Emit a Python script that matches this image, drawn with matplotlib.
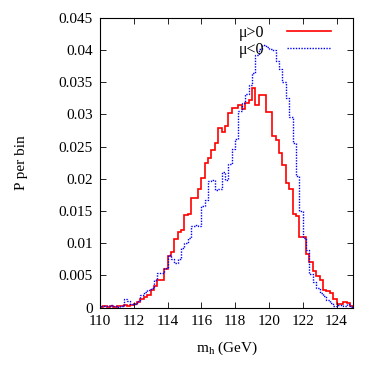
import numpy as np
import matplotlib
matplotlib.use("Agg")
import matplotlib.pyplot as plt

# m_h histogram, 0.2 GeV bins from 110 to 125 GeV
mh_range = (110, 125)

# mu > 0
p_mu_pos = [0.0001, 0.0002, 0.0001, 0.0002, 0.0001, 0.0002, 0.0002, 0.0004, 0.0003, 0.0004,
            0.0006, 0.0009, 0.0013, 0.0017, 0.0020, 0.0028, 0.0034, 0.0043, 0.0043, 0.0060,
            0.0080, 0.0087, 0.0106, 0.0118, 0.0120, 0.0144, 0.0145, 0.0170, 0.0171, 0.0184,
            0.0202, 0.0224, 0.0232, 0.0245, 0.0256, 0.0279, 0.0273, 0.0282, 0.0303, 0.0310,
            0.0310, 0.0315, 0.0308, 0.0318, 0.0323, 0.0341, 0.0315, 0.0330, 0.0330, 0.0304,
            0.0304, 0.0266, 0.0260, 0.0240, 0.0221, 0.0193, 0.0185, 0.0146, 0.0143, 0.0110,
            0.0109, 0.0084, 0.0071, 0.0057, 0.0049, 0.0043, 0.0028, 0.0026, 0.0023, 0.0014,
            0.0006, 0.0006, 0.0008, 0.0007, 0.0003]

# mu < 0
p_mu_neg = [0.0002, 0.0003, 0.0002, 0.0004, 0.0003, 0.0001, 0.0003, 0.0014, 0.0010, 0.0006,
            0.0006, 0.0010, 0.0019, 0.0025, 0.0027, 0.0031, 0.0043, 0.0054, 0.0054, 0.0061,
            0.0082, 0.0075, 0.0070, 0.0076, 0.0092, 0.0100, 0.0108, 0.0127, 0.0128, 0.0127,
            0.0158, 0.0167, 0.0196, 0.0198, 0.0183, 0.0184, 0.0211, 0.0198, 0.0223, 0.0247,
            0.0262, 0.0306, 0.0318, 0.0332, 0.0345, 0.0365, 0.0392, 0.0402, 0.0408, 0.0405,
            0.0402, 0.0400, 0.0383, 0.0370, 0.0350, 0.0326, 0.0296, 0.0255, 0.0205, 0.0150,
            0.0108, 0.0089, 0.0053, 0.0040, 0.0030, 0.0022, 0.0018, 0.0012, 0.0007, 0.0002,
            0.0004, 0.0004, 0.0003, 0.0005, 0.0001]

x_ticks = [110, 112, 114, 116, 118, 120, 122, 124]
y_ticks = [0, 0.005, 0.01, 0.015, 0.02, 0.025, 0.03, 0.035, 0.04, 0.045]
y_tick_labels = ["0", "0.005", "0.01", "0.015", "0.02", "0.025", "0.03", "0.035", "0.04", "0.045"]

plt.rcParams['font.family'] = ['Liberation Serif', 'DejaVu Serif']
plt.rcParams['mathtext.fontset'] = 'custom'
plt.rcParams['mathtext.rm'] = 'Liberation Serif'

fig = plt.figure(figsize=(3.8, 3.72), dpi=100)
ax = fig.add_axes([0.263, 0.173, 0.667, 0.779])

edges = np.linspace(mh_range[0], mh_range[1], len(p_mu_pos) + 1)
ax.stairs(p_mu_pos, edges, color="#ff0000", linewidth=1.2, label="μ>0")
ax.stairs(p_mu_neg, edges, color="#0000ff", linewidth=1.0, linestyle=(0, (1, 1)), label="μ<0")

ax.set_xlim(*mh_range)
ax.set_ylim(0, 0.045)
ax.set_xticks(x_ticks)
ax.set_yticks(y_ticks)
ax.set_yticklabels(y_tick_labels)
ax.tick_params(direction="in", top=True, right=True, length=4, width=0.6, labelsize=11, pad=5)
for s in ax.spines.values():
    s.set_linewidth(0.8)

ax.set_xlabel(r"m$_\mathrm{h}$ (GeV)", fontsize=11, labelpad=9)
ax.set_ylabel("P per bin", fontsize=11, labelpad=22)

ax.legend(loc="upper right", bbox_to_anchor=(0.97, 1.025), frameon=False, markerfirst=False,
          fontsize=11.5, handlelength=2.8, handletextpad=1.4, labelspacing=0.05)

fig.savefig("out.png", dpi=100)
